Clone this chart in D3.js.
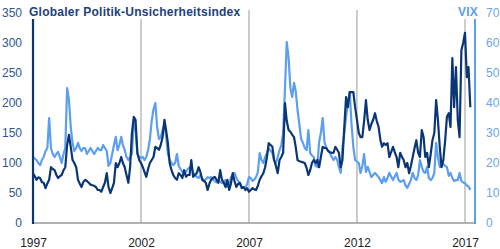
<!DOCTYPE html>
<html lang="de">
<head>
  <meta charset="UTF-8" />
  <title>Politik-Unsicherheit vs. VIX</title>
  <script src="https://d3js.org/d3.v7.min.js"></script>
  <style>
    body { margin: 0; background: #fff; }
    svg { display: block; font-family: "Liberation Sans", Arial, sans-serif; }
    .tick text { font-size: 12px; }
    .title { font-size: 12px; font-weight: bold; fill: #1d3f7c; letter-spacing: 0.25px; }
  </style>
</head>
<body>
  <svg id="chart" width="500" height="249"></svg>
  <script>
    // monthly data, Jan 1997 .. Apr 2017
    const startYear = 1997, startMonth = 0;

    const gpu = [
      83, 78, 72, 76, 75, 68, 67, 58, 66, 72, 93, 90, 88, 80, 75, 78, 80, 88, 93, 130,
      147, 127, 105, 100, 93, 72, 66, 60, 68, 72, 70, 67, 64, 63, 62, 60, 55, 55, 52, 60,
      67, 83, 60, 50, 58, 67, 100, 93, 100, 110, 100, 93, 80, 67, 93, 150, 177, 172, 117, 105,
      100, 93, 85, 77, 90, 100, 105, 110, 127, 125, 122, 130, 143, 172, 155, 133, 100, 88, 80, 75,
      72, 83, 80, 75, 88, 77, 80, 80, 105, 77, 80, 83, 93, 85, 72, 70, 67, 55, 65, 72,
      75, 77, 72, 67, 88, 72, 67, 60, 72, 55, 65, 83, 70, 60, 65, 67, 58, 60, 55, 58,
      52, 55, 58, 56, 55, 62, 72, 78, 83, 93, 110, 133, 130, 127, 105, 95, 83, 105, 110, 117,
      200, 170, 155, 152, 147, 143, 127, 105, 103, 102, 101, 100, 92, 80, 88, 100, 105, 100, 105, 93,
      110, 127, 125, 125, 120, 118, 117, 117, 127, 122, 117, 93, 105, 160, 210, 193, 218, 218, 218, 193,
      172, 150, 143, 143, 170, 205, 172, 155, 165, 172, 183, 170, 160, 138, 127, 133, 130, 133, 110, 118,
      127, 118, 110, 93, 117, 110, 105, 93, 100, 83, 95, 110, 125, 138, 117, 110, 155, 143, 110, 117,
      93, 115, 138, 150, 205, 172, 127, 93, 105, 138, 177, 183, 160, 275, 193, 260, 172, 143, 288, 300,
      317, 243, 260, 193
    ];

    const vix = [
      22, 21.5, 21, 20, 19.3, 21, 22, 24, 25, 35, 25, 23, 22, 23, 23.7, 22, 20, 23, 25, 45,
      41, 32, 26.7, 24, 25, 26.7, 25, 24, 25, 25, 23, 24, 25, 24, 23, 24, 25, 24.3, 24.3, 26,
      25, 24, 19, 20, 23, 26, 28.7, 24.3, 26, 28.7, 26, 24.3, 22, 21, 22, 23, 34, 31, 23, 22,
      21.7, 22, 21, 22, 24.3, 28, 34, 38, 40, 32, 28, 28.5, 31, 33, 29, 23, 21, 20, 19.3, 20,
      23, 19, 18, 17, 17.5, 17, 18, 18.5, 18.7, 17, 16, 15.3, 15, 16, 15, 14, 14.5, 15.3, 15, 15.3,
      14.5, 14, 13.5, 14.3, 13.8, 13.3, 14, 14.3, 12, 12.5, 15.3, 16, 16.7, 15, 14, 13.3, 12, 12, 11.7, 13,
      15.3, 15, 14, 14.5, 15.3, 17, 23.3, 21, 20, 22, 23.3, 25, 24, 23.3, 21, 20, 22, 24.3, 26, 30,
      45, 60.3, 55, 45, 42, 46.7, 44, 37.7, 33, 28, 26.7, 25, 24.3, 31, 23.3, 22.5, 22, 19, 18.7, 27,
      30, 35, 27, 25, 24, 23.3, 22, 21, 22, 21, 18.7, 16.7, 25.3, 30, 35.3, 40, 43.7, 33, 25.3, 21,
      20.5, 20, 16.7, 19, 23, 17, 18.7, 17, 15.3, 16, 16.7, 16, 15.3, 14.3, 13.3, 15.3, 13.7, 15, 16.7, 15.5,
      14.3, 15.5, 16.7, 14.5, 13.7, 14, 14.3, 12.5, 11.7, 13, 14.3, 16.7, 15, 14.3, 16, 21, 18.7, 17, 16.7, 18.7,
      15, 14.3, 15, 16.7, 26.7, 22, 18.7, 19, 19.7, 19, 18.7, 15.7, 16.7, 15, 14, 14.3, 14.3, 16.7, 14, 13.5,
      13.3, 12.5, 12.2, 11
    ];

    const leftTicks = [0, 50, 100, 150, 200, 250, 300, 350];
    const rightTicks = [0, 10, 20, 30, 40, 50, 60, 70];
    const yearTicks = [1997, 2002, 2007, 2012, 2017];

    const navy = "#0b3675", light = "#5c9ef0";
    const svg = d3.select("#chart");

    const x = d3.scaleTime()
      .domain([new Date(1997, 0, 1), new Date(2017, 0, 1)])
      .range([33, 465]);
    const xRight = 475;
    const yL = d3.scaleLinear().domain([0, 350]).range([223, 13]);
    const yR = d3.scaleLinear().domain([0, 70]).range([223, 13]);

    const dates = gpu.map((d, i) => new Date(startYear, startMonth + i, 1));

    // vertical grid lines
    svg.append("g")
      .selectAll("line")
      .data(yearTicks.slice(1))
      .join("line")
      .attr("x1", d => x(new Date(d, 0, 1)))
      .attr("x2", d => x(new Date(d, 0, 1)))
      .attr("y1", 10)
      .attr("y2", 223)
      .attr("stroke", "#9a9a9a")
      .attr("stroke-width", 1);

    // series
    const lineVix = d3.line()
      .x((d, i) => x(dates[i]))
      .y(d => yR(d));
    const lineGpu = d3.line()
      .x((d, i) => x(dates[i]))
      .y(d => yL(d));

    svg.append("path")
      .datum(vix)
      .attr("fill", "none")
      .attr("stroke", light)
      .attr("stroke-width", 2.2)
      .attr("stroke-linejoin", "round")
      .attr("d", lineVix);

    svg.append("path")
      .datum(gpu)
      .attr("fill", "none")
      .attr("stroke", navy)
      .attr("stroke-width", 2.2)
      .attr("stroke-linejoin", "round")
      .attr("d", lineGpu);

    // title boxes (cover grid lines)
    svg.append("rect").attr("x", 28).attr("y", 3).attr("width", 216).attr("height", 16).attr("fill", "#fff");
    svg.append("rect").attr("x", 454).attr("y", 3).attr("width", 26).attr("height", 16).attr("fill", "#fff");

    // axis lines
    svg.append("line")
      .attr("x1", 33).attr("x2", xRight)
      .attr("y1", 223).attr("y2", 223)
      .attr("stroke", "#999").attr("stroke-width", 1.5);
    svg.append("line")
      .attr("x1", 33).attr("x2", 33)
      .attr("y1", 19).attr("y2", 224)
      .attr("stroke", navy).attr("stroke-width", 2.2);
    svg.append("line")
      .attr("x1", xRight).attr("x2", xRight)
      .attr("y1", 19).attr("y2", 224)
      .attr("stroke", light).attr("stroke-width", 2);

    // axes
    const gl = svg.append("g")
      .attr("transform", "translate(33,0)")
      .call(d3.axisLeft(yL).tickValues(leftTicks).tickSize(0).tickPadding(11));
    gl.select(".domain").remove();
    gl.selectAll("text").attr("fill", "#2f5597");

    const gr = svg.append("g")
      .attr("transform", `translate(${xRight},0)`)
      .call(d3.axisRight(yR).tickValues(rightTicks).tickSize(0).tickPadding(11));
    gr.select(".domain").remove();
    gr.selectAll("text").attr("fill", "#6aa6ef");

    const gb = svg.append("g")
      .attr("transform", "translate(0,223)")
      .call(d3.axisBottom(x)
        .tickValues(yearTicks.map(y => new Date(y, 0, 1)))
        .tickFormat(d3.timeFormat("%Y"))
        .tickSize(0).tickPadding(15));
    gb.select(".domain").remove();
    gb.selectAll("text").attr("fill", "#222");

    svg.append("text")
      .attr("class", "title")
      .attr("x", 29).attr("y", 16)
      .text("Globaler Politik-Unsicherheitsindex");

    svg.append("text")
      .attr("class", "title")
      .attr("x", 478).attr("y", 16)
      .attr("text-anchor", "end")
      .style("fill", light)
      .text("VIX");
  </script>
</body>
</html>
